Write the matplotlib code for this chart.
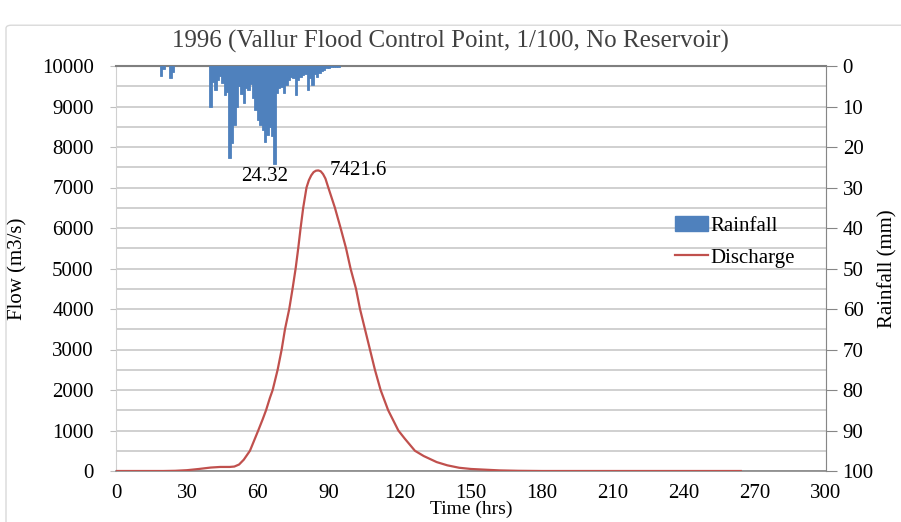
import matplotlib
matplotlib.use("Agg")
import matplotlib.pyplot as plt
from matplotlib.patches import Patch, FancyBboxPatch
from matplotlib.lines import Line2D

# discharge hydrograph (hrs, m3/s)
flow_hrs = [0, 20, 25, 30, 35, 40, 44, 48, 50, 52, 54, 56.6, 58, 60.1, 62, 63.4, 65,
            66.2, 68.3, 70, 71.4, 73.2, 74.6, 75.9, 77, 78, 79.1, 80.5, 81.5, 82.5,
            83.5, 84.5, 85.5, 86.5, 87.5, 88.5, 89.7, 92.5, 94.9, 97.2, 99.1, 101.4,
            103.1, 105.2, 107.3, 109.4, 111.8, 115, 119.3, 122, 126.3, 130, 135.5,
            140, 145, 150, 162, 170, 180, 264]
flow_cms = [0, 0, 5, 20, 50, 85, 100, 100, 110, 160, 280, 500, 700, 1000, 1280, 1500, 1800,
            2000, 2500, 3000, 3500, 4000, 4500, 5000, 5500, 6000, 6500, 7000, 7180, 7300,
            7380, 7415, 7421.6, 7400, 7330, 7220, 7000, 6500, 6000, 5500, 5000, 4500,
            4000, 3500, 3000, 2500, 2000, 1500, 1000, 800, 500, 370, 220,
            140, 80, 50, 15, 5, 0, 0]

# hourly rainfall (mm)
rain_hrs = [19, 20, 23, 24] + list(range(40, 95))
rain_mm = [2.4, 0.8, 3.0, 1.5,
           10.2, 4.0, 5.9, 3.5, 2.5, 4.2, 7.2, 6.5, 22.7, 19.0,
           14.6, 10.0, 5.0, 7.0, 9.2, 5.5, 6.0, 4.5, 8.0, 10.9,
           13.3, 14.5, 15.8, 18.7, 17.0, 15.0, 17.4, 24.32, 6.7, 5.5,
           5.1, 6.7, 4.7, 3.5, 2.6, 3.0, 7.2, 3.5, 2.8, 2.2,
           2.0, 5.9, 3.0, 4.7, 2.0, 2.6, 1.8, 1.2, 1.0, 0.6,
           0.4, 0.3, 0.3, 0.3, 0.3]

x_ticks = list(range(0, 301, 30))
flow_ticks = list(range(0, 10001, 1000))
rain_ticks = list(range(0, 101, 10))

BLUE = '#4F81BD'
RED = '#C0504D'
GRID = '#C8C8C8'
SPINE = '#868686'

plt.rcParams['font.family'] = ['Liberation Serif', 'DejaVu Serif']

fig = plt.figure(figsize=(9.01, 5.22), dpi=100)
# chart area frame
fig.patches.append(FancyBboxPatch((6 / 901, -0.01), 905 / 901, 502 / 522,
                                  boxstyle='round,pad=0,rounding_size=0.006',
                                  transform=fig.transFigure, fill=False,
                                  edgecolor='#D9D9D9', linewidth=1))

ax = fig.add_axes([116 / 901, 51 / 522, 710 / 901, 405 / 522])
ax.set_xlim(0, 300)
ax.set_ylim(0, 10000)
ax.set_xticks(x_ticks)
ax.set_yticks(flow_ticks)
ax.set_yticks(range(500, 10000, 1000), minor=True)
ax.grid(True, which='both', axis='y', color=GRID, linewidth=1.2)
ax.set_axisbelow(True)
ax.plot(flow_hrs, flow_cms, color=RED, linewidth=1.6, zorder=3)

for s in ['top', 'left', 'right']:
    ax.spines[s].set_color('#D0D0D0')
ax.spines['bottom'].set_color(SPINE)
ax.spines['bottom'].set_linewidth(1.2)
ax.tick_params(axis='x', length=0, pad=9, labelsize=15)
ax.tick_params(axis='y', which='major', length=4, color='#BFBFBF', pad=12, labelsize=15)
ax.tick_params(axis='y', which='minor', length=0)
ax.set_xlabel('Time (hrs)', fontsize=14)
ax.xaxis.set_label_coords(0.5, -0.074)
ax.set_ylabel('Flow (m3/s)', fontsize=15)
ax.yaxis.set_label_coords(-0.125, 0.5)

imax = flow_cms.index(max(flow_cms))
ax.annotate('%.1f' % flow_cms[imax], (flow_hrs[imax], flow_cms[imax]),
            xytext=(8, 0), textcoords='offset points', fontsize=15,
            ha='left', va='center')

ax2 = ax.twinx()
ax2.set_ylim(100, 0)
ax2.set_yticks(rain_ticks)
ax2.bar(rain_hrs, rain_mm, width=1.0, color=BLUE, edgecolor=BLUE, linewidth=0.6)
for s in ['top', 'left', 'bottom']:
    ax2.spines[s].set_visible(False)
ax2.spines['right'].set_color(SPINE)
ax2.tick_params(axis='y', length=8, color=SPINE, pad=4, labelsize=15)
ax2.set_ylabel('Rainfall (mm)', fontsize=15)
ax2.yaxis.set_label_coords(1.074, 0.5)
ax.plot([0, 300], [10000, 10000], color='#7F7F7F', linewidth=1.5,
        clip_on=False, zorder=5)

rmax = rain_mm.index(max(rain_mm))
ax2.annotate('%.2f' % rain_mm[rmax], (rain_hrs[rmax], rain_mm[rmax]),
             xytext=(-7, -2), textcoords='offset points', fontsize=15,
             ha='center', va='top')

handles = [Patch(facecolor=BLUE, edgecolor=BLUE),
           Line2D([0], [0], color=RED, linewidth=1.6)]
ax2.legend(handles, ['Rainfall', 'Discharge'], loc='upper left',
           bbox_to_anchor=(0.775, 0.65), frameon=False, fontsize=15,
           handlelength=1.6, handletextpad=0.1, labelspacing=0.6,
           borderaxespad=0)

fig.suptitle('1996 (Vallur Flood Control Point, 1/100, No Reservoir)',
             fontsize=18, color='#404040', y=0.942)

fig.savefig('out.png', dpi=100)
